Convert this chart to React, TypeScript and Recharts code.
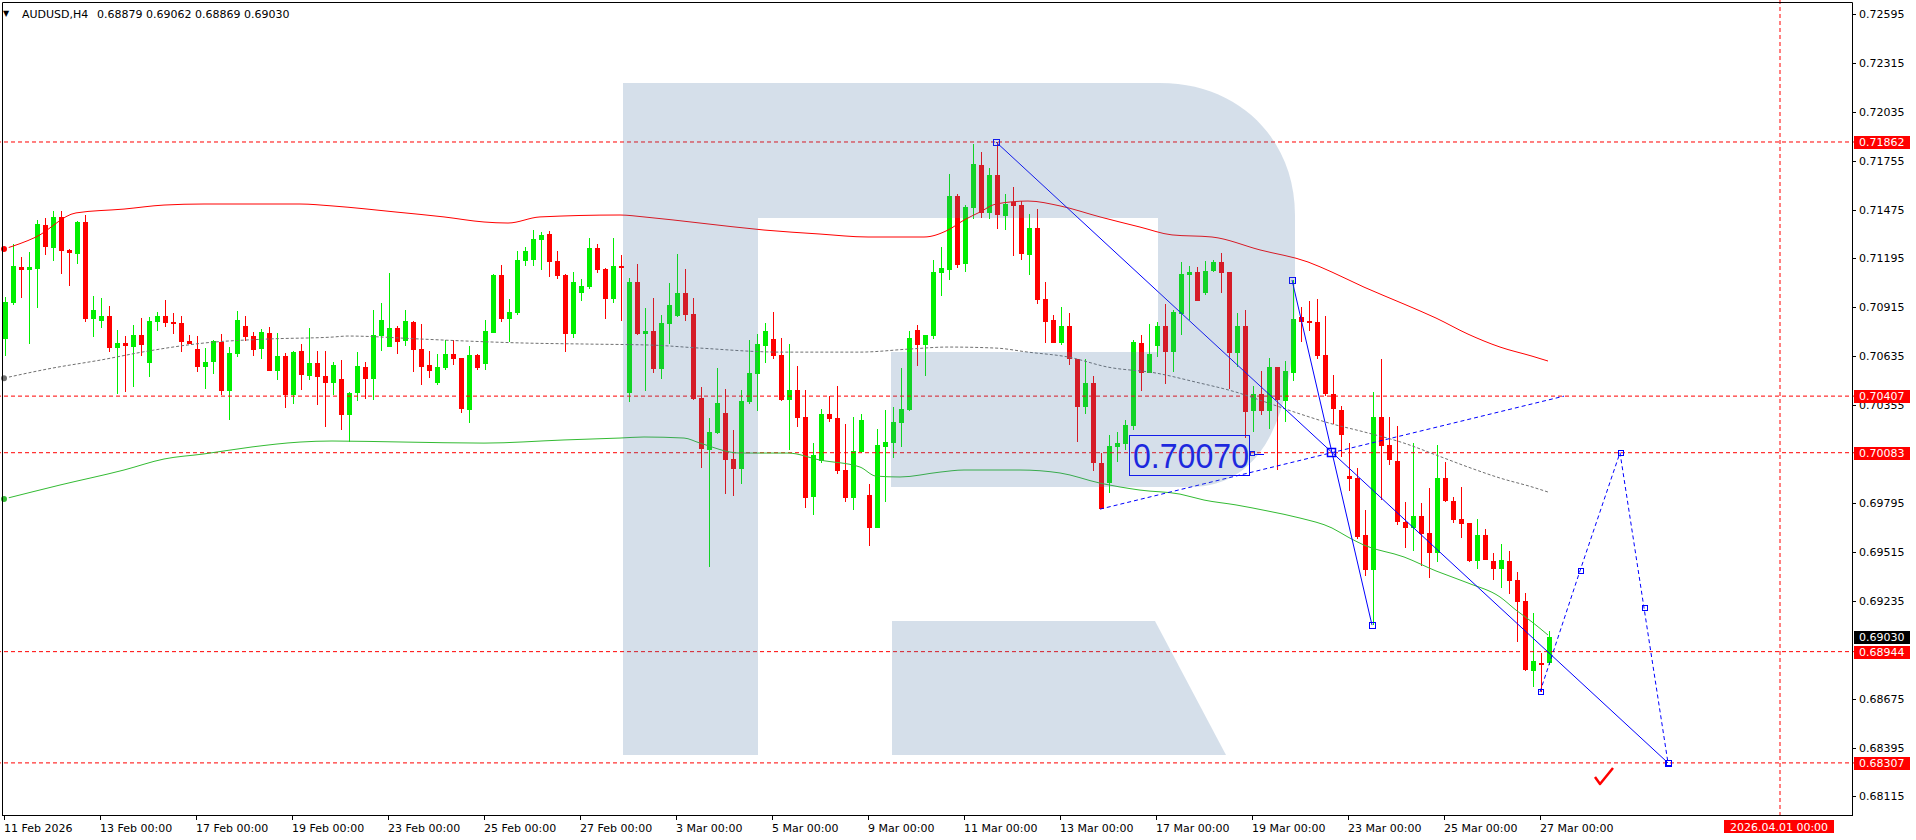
import React from 'react';
import {
  ComposedChart,
  Bar,
  Line,
  XAxis,
  YAxis,
  ReferenceLine,
  ReferenceDot,
} from 'recharts';

const FONT = '"DejaVu Sans", sans-serif';
const BULL = '#00ee00';
const BEAR = '#ff0000';
const BLUE = '#0000ff';

// AUDUSD H4 candles from 11 Feb 2026 00:00, [open, high, low, close]
const candles: number[][] = [
  [0.70734, 0.70976, 0.70638, 0.70947], [0.70938, 0.71278, 0.70928, 0.71152], [0.71146, 0.71203, 0.70969, 0.71131],
  [0.71131, 0.71232, 0.70707, 0.71146], [0.71136, 0.71414, 0.70913, 0.71393], [0.71387, 0.71427, 0.71217, 0.71262],
  [0.71257, 0.71467, 0.71182, 0.71433], [0.71433, 0.71467, 0.71108, 0.71240], [0.71245, 0.71249, 0.71037, 0.71228],
  [0.71222, 0.71410, 0.71165, 0.71406], [0.71404, 0.71446, 0.70833, 0.70850], [0.70850, 0.70980, 0.70747, 0.70900],
  [0.70838, 0.70969, 0.70798, 0.70865], [0.70865, 0.70923, 0.70661, 0.70684], [0.70684, 0.70785, 0.70420, 0.70711],
  [0.70711, 0.70753, 0.70432, 0.70695], [0.70689, 0.70814, 0.70459, 0.70756], [0.70756, 0.70856, 0.70638, 0.70701],
  [0.70598, 0.70861, 0.70518, 0.70837], [0.70833, 0.70890, 0.70779, 0.70865], [0.70865, 0.70957, 0.70804, 0.70827],
  [0.70831, 0.70881, 0.70764, 0.70821], [0.70825, 0.70865, 0.70661, 0.70718], [0.70724, 0.70756, 0.70705, 0.70707],
  [0.70676, 0.70751, 0.70544, 0.70573], [0.70573, 0.70684, 0.70447, 0.70602], [0.70604, 0.70728, 0.70535, 0.70720],
  [0.70715, 0.70762, 0.70413, 0.70437], [0.70437, 0.70689, 0.70272, 0.70652], [0.70650, 0.70894, 0.70632, 0.70842],
  [0.70808, 0.70865, 0.70720, 0.70747], [0.70751, 0.70775, 0.70638, 0.70672], [0.70678, 0.70793, 0.70619, 0.70774],
  [0.70768, 0.70804, 0.70548, 0.70550], [0.70550, 0.70766, 0.70501, 0.70636], [0.70636, 0.70652, 0.70341, 0.70415],
  [0.70415, 0.70665, 0.70364, 0.70659], [0.70665, 0.70705, 0.70443, 0.70529], [0.70523, 0.70798, 0.70501, 0.70596],
  [0.70596, 0.70665, 0.70358, 0.70518], [0.70522, 0.70665, 0.70232, 0.70483], [0.70483, 0.70602, 0.70413, 0.70585],
  [0.70504, 0.70613, 0.70215, 0.70299], [0.70299, 0.70430, 0.70143, 0.70424], [0.70424, 0.70659, 0.70381, 0.70579],
  [0.70573, 0.70602, 0.70391, 0.70504], [0.70504, 0.70900, 0.70385, 0.70756], [0.70753, 0.70940, 0.70665, 0.70842],
  [0.70688, 0.71112, 0.70686, 0.70797], [0.70797, 0.70808, 0.70650, 0.70716], [0.70724, 0.70900, 0.70693, 0.70837],
  [0.70831, 0.70837, 0.70544, 0.70671], [0.70676, 0.70820, 0.70470, 0.70573], [0.70585, 0.70665, 0.70510, 0.70550],
  [0.70481, 0.70648, 0.70470, 0.70573], [0.70567, 0.70728, 0.70556, 0.70648], [0.70648, 0.70728, 0.70585, 0.70619],
  [0.70625, 0.70627, 0.70310, 0.70333], [0.70328, 0.70693, 0.70253, 0.70642], [0.70642, 0.70648, 0.70556, 0.70567],
  [0.70590, 0.70842, 0.70556, 0.70779], [0.70768, 0.71106, 0.70766, 0.71100], [0.71100, 0.71158, 0.70831, 0.70848],
  [0.70848, 0.70963, 0.70716, 0.70888], [0.70883, 0.71238, 0.70871, 0.71186], [0.71180, 0.71261, 0.71152, 0.71238],
  [0.71186, 0.71358, 0.71152, 0.71307], [0.71301, 0.71347, 0.71129, 0.71330], [0.71335, 0.71352, 0.71089, 0.71175],
  [0.71180, 0.71238, 0.71077, 0.71094], [0.71100, 0.71106, 0.70659, 0.70762], [0.70762, 0.71117, 0.70739, 0.71060],
  [0.70997, 0.71077, 0.70951, 0.71037], [0.71031, 0.71312, 0.71020, 0.71255], [0.71255, 0.71278, 0.71112, 0.71129],
  [0.71135, 0.71140, 0.70848, 0.70963], [0.70963, 0.71312, 0.70940, 0.71152], [0.71152, 0.71215, 0.70837, 0.71140],
  [0.70424, 0.71083, 0.70374, 0.71060], [0.71060, 0.71163, 0.70756, 0.70762], [0.70762, 0.70911, 0.70437, 0.70779],
  [0.70779, 0.70968, 0.70539, 0.70563], [0.70563, 0.70871, 0.70504, 0.70825], [0.70820, 0.71054, 0.70707, 0.70928],
  [0.70865, 0.71221, 0.70860, 0.70997], [0.70997, 0.71135, 0.70837, 0.70871], [0.70877, 0.70968, 0.70385, 0.70391],
  [0.70396, 0.70459, 0.69995, 0.70104], [0.70099, 0.70282, 0.69428, 0.70202], [0.70196, 0.70567, 0.70190, 0.70368],
  [0.70310, 0.70447, 0.69846, 0.70041], [0.70047, 0.70213, 0.69835, 0.69990], [0.69990, 0.70442, 0.69904, 0.70379],
  [0.70374, 0.70728, 0.70362, 0.70539], [0.70533, 0.70762, 0.70322, 0.70705], [0.70693, 0.70825, 0.70596, 0.70779],
  [0.70734, 0.70888, 0.70619, 0.70636], [0.70642, 0.70739, 0.70379, 0.70385], [0.70385, 0.70705, 0.70099, 0.70442],
  [0.70442, 0.70579, 0.70230, 0.70282], [0.70288, 0.70442, 0.69766, 0.69824], [0.69829, 0.70138, 0.69726, 0.70070],
  [0.70036, 0.70333, 0.70024, 0.70305], [0.70305, 0.70408, 0.70259, 0.70276], [0.70282, 0.70465, 0.69961, 0.69978],
  [0.69984, 0.70248, 0.69801, 0.69824], [0.69824, 0.70288, 0.69755, 0.70093], [0.70087, 0.70305, 0.70081, 0.70270],
  [0.69841, 0.69904, 0.69548, 0.69652], [0.69652, 0.70219, 0.69650, 0.70127], [0.70116, 0.70328, 0.69801, 0.70144],
  [0.70138, 0.70345, 0.70053, 0.70259], [0.70253, 0.70567, 0.70116, 0.70333], [0.70328, 0.70779, 0.70322, 0.70739],
  [0.70785, 0.70814, 0.70579, 0.70699], [0.70699, 0.70758, 0.70522, 0.70756], [0.70751, 0.71186, 0.70734, 0.71117],
  [0.71112, 0.71261, 0.70980, 0.71140], [0.71129, 0.71678, 0.71072, 0.71552], [0.71552, 0.71564, 0.71140, 0.71158],
  [0.71163, 0.71501, 0.71117, 0.71490], [0.71484, 0.71850, 0.71421, 0.71735], [0.71730, 0.71804, 0.71427, 0.71456],
  [0.71456, 0.71713, 0.71421, 0.71673], [0.71673, 0.71862, 0.71364, 0.71444], [0.71438, 0.71564, 0.71358, 0.71507],
  [0.71519, 0.71605, 0.71209, 0.71496], [0.71501, 0.71524, 0.71186, 0.71221], [0.71215, 0.71450, 0.71100, 0.71370],
  [0.71370, 0.71478, 0.70934, 0.70957], [0.70963, 0.71060, 0.70711, 0.70831], [0.70842, 0.70871, 0.70709, 0.70711],
  [0.70711, 0.70917, 0.70699, 0.70808], [0.70808, 0.70883, 0.70585, 0.70619], [0.70619, 0.70622, 0.70144, 0.70345],
  [0.70345, 0.70619, 0.70305, 0.70481], [0.70481, 0.70522, 0.69978, 0.70024], [0.70024, 0.70081, 0.69758, 0.69760],
  [0.69909, 0.70184, 0.69855, 0.70121], [0.70116, 0.70202, 0.70030, 0.70138], [0.70133, 0.70270, 0.70099, 0.70242],
  [0.70236, 0.70728, 0.70213, 0.70716], [0.70711, 0.70756, 0.70437, 0.70539], [0.70539, 0.70820, 0.70537, 0.70648],
  [0.70693, 0.70831, 0.70631, 0.70808], [0.70808, 0.70934, 0.70476, 0.70659], [0.70659, 0.70900, 0.70544, 0.70888],
  [0.70877, 0.71175, 0.70756, 0.71106], [0.71100, 0.71152, 0.70842, 0.71117], [0.71117, 0.71146, 0.70949, 0.70951],
  [0.70997, 0.71180, 0.70986, 0.71123], [0.71123, 0.71186, 0.71117, 0.71175], [0.71175, 0.71227, 0.70997, 0.71112],
  [0.71117, 0.71120, 0.70447, 0.70654], [0.70654, 0.70883, 0.70573, 0.70808], [0.70808, 0.70900, 0.70167, 0.70316],
  [0.70322, 0.70465, 0.70202, 0.70419], [0.70419, 0.70550, 0.70299, 0.70322], [0.70322, 0.70625, 0.70219, 0.70573],
  [0.70573, 0.70576, 0.69984, 0.70385], [0.70379, 0.70608, 0.70259, 0.70550], [0.70539, 0.71072, 0.70493, 0.70848],
  [0.70860, 0.70917, 0.70716, 0.70831], [0.70837, 0.70951, 0.70779, 0.70825], [0.70831, 0.70963, 0.70619, 0.70636],
  [0.70642, 0.70865, 0.70408, 0.70419], [0.70419, 0.70528, 0.70248, 0.70333], [0.70328, 0.70351, 0.70059, 0.70184],
  [0.69949, 0.70138, 0.69863, 0.69932], [0.69938, 0.69995, 0.69589, 0.69600], [0.69612, 0.69755, 0.69377, 0.69411],
  [0.69411, 0.70430, 0.69096, 0.70288], [0.70288, 0.70619, 0.69812, 0.70121], [0.70127, 0.70288, 0.70013, 0.70041],
  [0.70036, 0.70236, 0.69669, 0.69686], [0.69686, 0.69801, 0.69537, 0.69652], [0.69652, 0.70138, 0.69520, 0.69720],
  [0.69720, 0.69795, 0.69434, 0.69617], [0.69623, 0.69881, 0.69365, 0.69509], [0.69509, 0.70127, 0.69457, 0.69938],
  [0.69938, 0.70030, 0.69801, 0.69806], [0.69806, 0.69829, 0.69680, 0.69697], [0.69703, 0.69887, 0.69594, 0.69675],
  [0.69680, 0.69683, 0.69457, 0.69463], [0.69463, 0.69703, 0.69417, 0.69612], [0.69612, 0.69646, 0.69466, 0.69469],
  [0.69463, 0.69509, 0.69354, 0.69417], [0.69417, 0.69560, 0.69308, 0.69469], [0.69463, 0.69520, 0.69274, 0.69348],
  [0.69354, 0.69400, 0.68999, 0.69228], [0.69234, 0.69279, 0.68833, 0.68839], [0.68833, 0.69165, 0.68741, 0.68890],
  [0.68879, 0.68936, 0.68713, 0.68867], [0.68879, 0.69062, 0.68869, 0.69030],
];

// moving averages, [bar index, price]
const maSlow: number[][] = [
  [0, 0.71249], [4, 0.71318], [9, 0.71456], [15, 0.71478], [20, 0.71501], [25, 0.71507], [37, 0.71507],
  [41, 0.71496], [49, 0.71461], [55, 0.71433], [60, 0.71404], [63, 0.71398], [67, 0.71433], [77, 0.71444],
  [80, 0.71433], [87, 0.71398], [95, 0.71358], [102, 0.71335], [108, 0.71318], [115, 0.71318], [118, 0.71358],
  [120, 0.71415], [122, 0.71461], [124, 0.71507], [128, 0.71524], [132, 0.71496], [137, 0.71433], [142, 0.71375],
  [146, 0.71330], [151, 0.71318], [157, 0.71244], [163, 0.71175], [166, 0.71117], [170, 0.71031], [175, 0.70934],
  [179, 0.70854], [183, 0.70762], [187, 0.70688], [191, 0.70636], [193, 0.70608],
];
const maMid: number[][] = [
  [0, 0.70510], [6, 0.70567], [12, 0.70613], [18, 0.70665], [25, 0.70711], [33, 0.70734], [41, 0.70745],
  [43, 0.70751], [52, 0.70734], [58, 0.70722], [65, 0.70711], [73, 0.70705], [81, 0.70699], [87, 0.70682],
  [97, 0.70659], [107, 0.70659], [113, 0.70676], [118, 0.70688], [124, 0.70682], [128, 0.70659], [133, 0.70631],
  [138, 0.70573], [144, 0.70539], [149, 0.70487], [154, 0.70430], [158, 0.70368], [162, 0.70305], [166, 0.70248],
  [170, 0.70202], [175, 0.70138], [179, 0.70070], [183, 0.70001], [187, 0.69938], [191, 0.69887], [193, 0.69858],
];
const maFast: number[][] = [
  [0, 0.69818], [7, 0.69898], [15, 0.69984], [20, 0.70047], [25, 0.70076], [31, 0.70116], [37, 0.70144],
  [41, 0.70150], [50, 0.70144], [60, 0.70138], [70, 0.70156], [77, 0.70167], [80, 0.70173], [85, 0.70167],
  [87, 0.70138], [92, 0.70081], [98, 0.70081], [102, 0.70041], [107, 0.70001], [109, 0.69949], [112, 0.69944],
  [117, 0.69972], [120, 0.69984], [127, 0.69984], [132, 0.69967], [137, 0.69909], [142, 0.69869], [147, 0.69846],
  [150, 0.69812], [154, 0.69784], [158, 0.69749], [162, 0.69709], [166, 0.69652], [168, 0.69600], [170, 0.69554],
  [175, 0.69486], [179, 0.69406], [183, 0.69337], [187, 0.69257], [189, 0.69182], [191, 0.69114], [193, 0.69039],
];

// hand drawn lines, [bar index, price]
const trendA: number[][] = [[124, 0.71862], [208, 0.68307]];
const trendB: number[][] = [[161, 0.71072], [171, 0.69096]];
const channelC: number[][] = [[137, 0.69760], [195, 0.70407]];
const forecast: number[][] = [[192, 0.68713], [197, 0.69407], [202, 0.70083], [205, 0.69195], [208, 0.68307]];

const timeLabels: [number, string][] = [
  [0, '11 Feb 2026'], [12, '13 Feb 00:00'], [24, '17 Feb 00:00'], [36, '19 Feb 00:00'], [48, '23 Feb 00:00'],
  [60, '25 Feb 00:00'], [72, '27 Feb 00:00'], [84, '3 Mar 00:00'], [96, '5 Mar 00:00'], [108, '9 Mar 00:00'],
  [120, '11 Mar 00:00'], [132, '13 Mar 00:00'], [144, '17 Mar 00:00'], [156, '19 Mar 00:00'],
  [168, '23 Mar 00:00'], [180, '25 Mar 00:00'], [192, '27 Mar 00:00'],
];
const futureBar = 222;
const futureLabel = '2026.04.01 00:00';

const priceTicks = [
  0.72595, 0.72315, 0.72035, 0.71755, 0.71475, 0.71195, 0.70915, 0.70635, 0.70355,
  0.69795, 0.69515, 0.69235, 0.68675, 0.68395, 0.68115,
];
const levels = [0.71862, 0.70407, 0.70083, 0.68944, 0.68307];
const lastPrice = 0.6903;
const labelPrice = 0.70075;
const labelText = '0.70070';
const labelBar = 156;
const crossBar = 166;
const checkBar = 200;
const checkPrice = 0.68232;

const TOTAL_BARS = 232;
const Y_DOMAIN = [0.68003, 0.72675];

const pick = (pts: number[][], i: number) => {
  const p = pts.find((q) => q[0] === i);
  return p ? p[1] : null;
};

const rows = Array.from({ length: TOTAL_BARS }, (_, i) => {
  const k = candles[i];
  return {
    i,
    o: k ? k[0] : null,
    h: k ? k[1] : null,
    l: k ? k[2] : null,
    c: k ? k[3] : null,
    range: k ? [k[2], k[1]] : null,
    slow: pick(maSlow, i),
    mid: pick(maMid, i),
    fast: pick(maFast, i),
    a: pick(trendA, i),
    b: pick(trendB, i),
    ch: pick(channelC, i),
    fc: pick(forecast, i),
  };
});

const renderCandle = (p: any) => {
  const d = p.payload;
  if (!d || d.o == null) return <g />;
  const top = Math.min(p.y, p.y + p.height);
  const span = Math.abs(p.height);
  const ppu = d.h === d.l ? 0 : span / (d.h - d.l);
  const cx = Math.round(p.x + p.width / 2);
  const color = d.c >= d.o ? BULL : BEAR;
  const bTop = Math.round(top + (d.h - Math.max(d.o, d.c)) * ppu);
  const bBot = Math.round(top + (d.h - Math.min(d.o, d.c)) * ppu);
  return (
    <g>
      <line x1={cx + 0.5} x2={cx + 0.5} y1={Math.round(top)} y2={Math.round(top + span)} stroke={color} />
      <rect x={cx - 2} y={bTop} width={5} height={Math.max(1, bBot - bTop)} fill={color} />
    </g>
  );
};

const square = (size: number) => (p: any) => {
  if (p.value == null || p.cx == null || p.cy == null) return <g key={`s-${p.index}`} />;
  return (
    <rect
      key={`s-${p.index}`}
      x={Math.round(p.cx - size / 2) + 0.5}
      y={Math.round(p.cy - size / 2) + 0.5}
      width={size}
      height={size}
      fill="none"
      stroke={BLUE}
    />
  );
};

const renderTimeTick = (p: any) => {
  const v = p.payload.value;
  const x = Math.round(p.x);
  if (v === futureBar) {
    return (
      <g>
        <rect x={x - 56} y={820} width={110} height={13} fill={BEAR} />
        <text x={x - 1} y={831} textAnchor="middle" fontSize={11} fontFamily={FONT} fill="#fff">{futureLabel}</text>
      </g>
    );
  }
  const t = timeLabels.find((q) => q[0] === v);
  if (!t) return <g />;
  return (
    <g>
      <line x1={x + 0.5} x2={x + 0.5} y1={816} y2={820} stroke="#000" />
      <text x={x} y={832} fontSize={11} fontFamily={FONT} fill="#000">{t[1]}</text>
    </g>
  );
};

const renderPriceTick = (p: any) => {
  const v = Number(p.payload.value);
  const y = Math.round(p.y);
  const tag = levels.some((q) => Math.abs(q - v) < 1e-7);
  const last = Math.abs(v - lastPrice) < 1e-7;
  if (tag || last) {
    return (
      <g>
        <rect x={1854} y={y - 6} width={56} height={13} fill={tag ? BEAR : '#000'} />
        <text x={1859} y={y + 4} fontSize={11} fontFamily={FONT} fill="#fff">{v.toFixed(5)}</text>
      </g>
    );
  }
  return (
    <g>
      <line x1={1852} x2={1856} y1={y + 0.5} y2={y + 0.5} stroke="#000" />
      <text x={1859} y={y + 4} fontSize={11} fontFamily={FONT} fill="#000">{v.toFixed(5)}</text>
    </g>
  );
};

const renderPriceLabel = (p: any) => {
  const cx = Math.round(p.cx);
  const cy = Math.round(p.cy);
  return (
    <g>
      <rect x={cx - 122.5} y={cy - 18.5} width={120} height={40} fill="none" stroke={BLUE} />
      <text x={cx - 119} y={cy + 14} fontSize={35} fontFamily='"Liberation Sans", sans-serif' fill="#1010f0" textLength={116} lengthAdjust="spacingAndGlyphs">{labelText}</text>
      <rect x={cx - 1.5} y={cy - 2.5} width={4} height={4} fill="none" stroke={BLUE} />
      <line x1={cx + 3} x2={cx + 12} y1={cy + 0.5} y2={cy + 0.5} stroke={BLUE} />
    </g>
  );
};

const renderCross = (p: any) => (
  <rect x={Math.round(p.cx) - 4.5} y={Math.round(p.cy) - 4.5} width={8} height={8} fill="none" stroke={BLUE} strokeWidth={1.5} />
);

const renderCheck = (p: any) => (
  <path
    d={`M${p.cx - 9},${p.cy + 1} L${p.cx - 4},${p.cy + 8} L${p.cx + 9},${p.cy - 8}`}
    fill="none"
    stroke={BEAR}
    strokeWidth={2.5}
    strokeLinejoin="round"
  />
);

const R_BODY =
  'M623,83 H1160 C1240,83 1295,140 1295,215 V300 C1295,420 1260,487 1190,487 H891 V352 H1158 V218 H758 V755 H623 Z';
const R_LEG = 'M892,621 H1155 L1226,755 H892 Z';

export default function App() {
  return (
    <div style={{ position: 'absolute', left: 0, top: 0, width: 1916, height: 840, background: '#fff', fontFamily: FONT }}>
      <ComposedChart width={1916} height={840} data={rows} margin={{ top: 0, right: 0, bottom: 0, left: 0 }}>
        <XAxis dataKey="i" type="category" height={24} interval={0} tickLine={false} axisLine={false} tick={renderTimeTick} />
        <YAxis
          orientation="right"
          width={60}
          type="number"
          domain={Y_DOMAIN}
          allowDataOverflow
          ticks={[...priceTicks, ...levels, lastPrice]}
          interval={0}
          tickLine={false}
          axisLine={false}
          tick={renderPriceTick}
        />
        {levels.map((v) => (
          <ReferenceLine key={v} y={v} stroke={BEAR} strokeDasharray="4 3" />
        ))}
        <ReferenceLine x={futureBar} stroke={BEAR} strokeDasharray="4 3" />
        <Line dataKey="fast" stroke="#33bb33" dot={false} connectNulls type="monotone" isAnimationActive={false} />
        <Line dataKey="mid" stroke="#707070" strokeDasharray="3 2" dot={false} connectNulls type="monotone" isAnimationActive={false} />
        <Line dataKey="slow" stroke={BEAR} dot={false} connectNulls type="monotone" isAnimationActive={false} />
        <Bar dataKey="range" barSize={5} shape={renderCandle} isAnimationActive={false} />
        <Line dataKey="a" stroke={BLUE} dot={square(6)} connectNulls type="linear" isAnimationActive={false} />
        <Line dataKey="b" stroke={BLUE} dot={square(6)} connectNulls type="linear" isAnimationActive={false} />
        <Line dataKey="ch" stroke={BLUE} strokeDasharray="4 3" dot={false} connectNulls type="linear" isAnimationActive={false} />
        <Line dataKey="fc" stroke={BLUE} strokeDasharray="4 3" dot={square(5)} connectNulls type="linear" isAnimationActive={false} />
        <ReferenceDot x={crossBar} y={levels[2]} shape={renderCross} />
        <ReferenceDot x={labelBar} y={labelPrice} shape={renderPriceLabel} />
        <ReferenceDot x={checkBar} y={checkPrice} shape={renderCheck} />
      </ComposedChart>
      <svg width={1916} height={840} style={{ position: 'absolute', left: 0, top: 0, pointerEvents: 'none' }}>
        <path d={R_BODY} fill="rgb(77,119,166)" fillOpacity={0.235} />
        <path d={R_LEG} fill="rgb(77,119,166)" fillOpacity={0.235} />
        <polyline points="2.5,816 2.5,2.5 1852.5,2.5 1852.5,816" fill="none" stroke="#000" />
        <line x1={2} x2={1853} y1={815.5} y2={815.5} stroke="#000" />
        <text x={3} y={16} fontSize={8} fontFamily={FONT} fill="#000">▼</text>
        <text x={22} y={18} fontSize={11} fontFamily={FONT} fill="#000">AUDUSD,H4</text>
        <text x={97} y={18} fontSize={11} fontFamily={FONT} fill="#000">0.68879 0.69062 0.68869 0.69030</text>
      </svg>
    </div>
  );
}
